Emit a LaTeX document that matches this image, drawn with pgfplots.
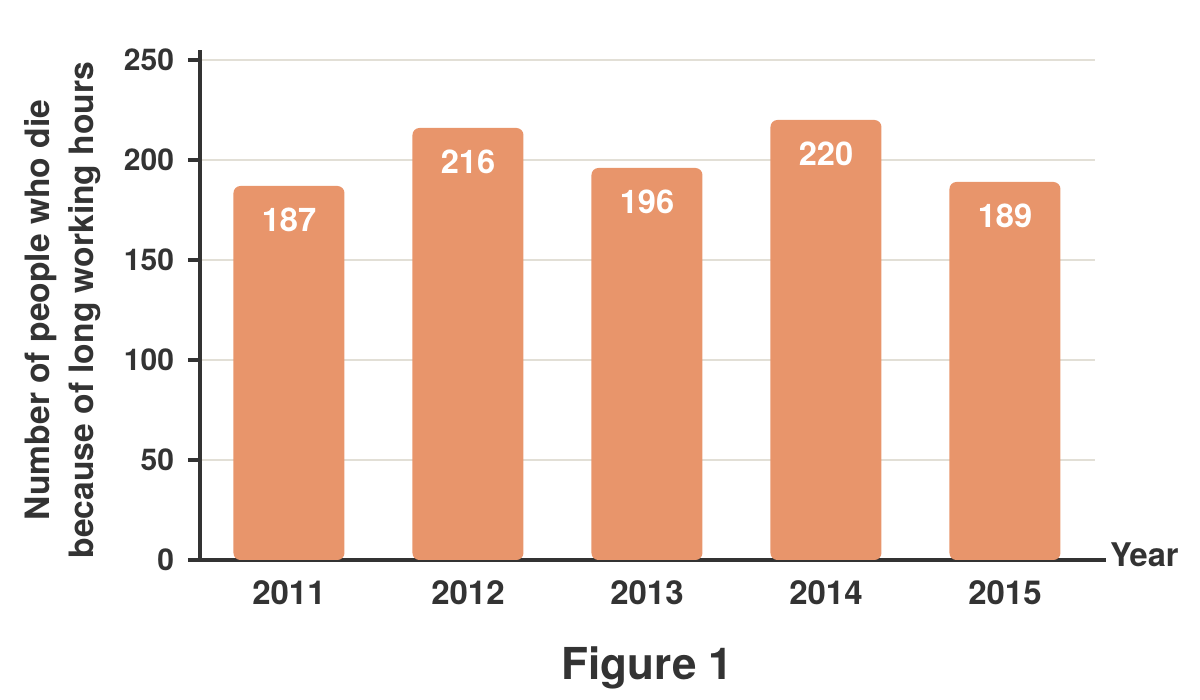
\documentclass[border=0pt]{standalone}
\usepackage{pgfplots}
\pgfplotsset{compat=1.18}
\usepackage{fontspec}
\setmainfont{TeX Gyre Heros}
\definecolor{barc}{HTML}{E8956B}
\definecolor{txt}{HTML}{333333}
\definecolor{gridc}{HTML}{E2DFD6}
\begin{document}
\begin{tikzpicture}
\path[use as bounding box] (0,0) rectangle (600pt,350pt);
\begin{axis}[
  at={(100pt,70pt)}, anchor=south west,
  scale only axis, width=447.5pt, height=250pt,
  xmin=-0.497, xmax=4.503, ymin=0, ymax=250,
  axis x line=bottom, axis y line=left,
  axis line style={draw=txt, line width=2pt, -},
  x axis line style={shorten >=-5.5pt},
  y axis line style={shorten >=-5pt},
  xtick={0,1,2,3,4}, xticklabels={2011,2012,2013,2014,2015},
  major x tick style={draw=none},
  ytick={0,50,100,150,200,250},
  ymajorgrids, grid style={draw=gridc, line width=0.8pt},
  major y tick style={draw=txt, line width=2pt},
  major tick length=6pt, tick align=outside,
  /pgf/number format/assume math mode=true,
  xticklabel style={font=\fontsize{16.5}{18}\selectfont\bfseries, text=txt, anchor=center, yshift=-10.5pt},
  yticklabel style={font=\fontsize{15}{18}\selectfont\bfseries, text=txt, xshift=-3.5pt},
  xlabel={Year},
  every axis x label/.style={at={(axis description cs:1,0)}, anchor=base west, xshift=4pt, yshift=-3.5pt, font=\fontsize{16.3}{18}\selectfont\bfseries, text=txt},
  ylabel={Number of people who die\\because of long working hours},
  every axis y label/.style={at={(axis description cs:0,0.5)}, xshift=-68.5pt, rotate=90, anchor=center, align=center, font=\fontsize{16.8}{22}\selectfont\bfseries, text=txt},
  title={Figure 1},
  title style={at={(axis description cs:0.5,0)}, anchor=center, yshift=-60pt, font=\fontsize{22}{24}\selectfont\bfseries, text=txt},
  ybar, bar width=55.5pt,
  nodes near coords,
  nodes near coords style={anchor=center, yshift=-17pt, text=white, font=\fontsize{16.3}{18}\selectfont\bfseries, /pgf/number format/assume math mode=true},
]
\addplot[fill=barc, draw=none, rounded corners=3.5pt] coordinates {(0,187) (1,216) (2,196) (3,220) (4,189)};
\end{axis}
\end{tikzpicture}
\end{document}
